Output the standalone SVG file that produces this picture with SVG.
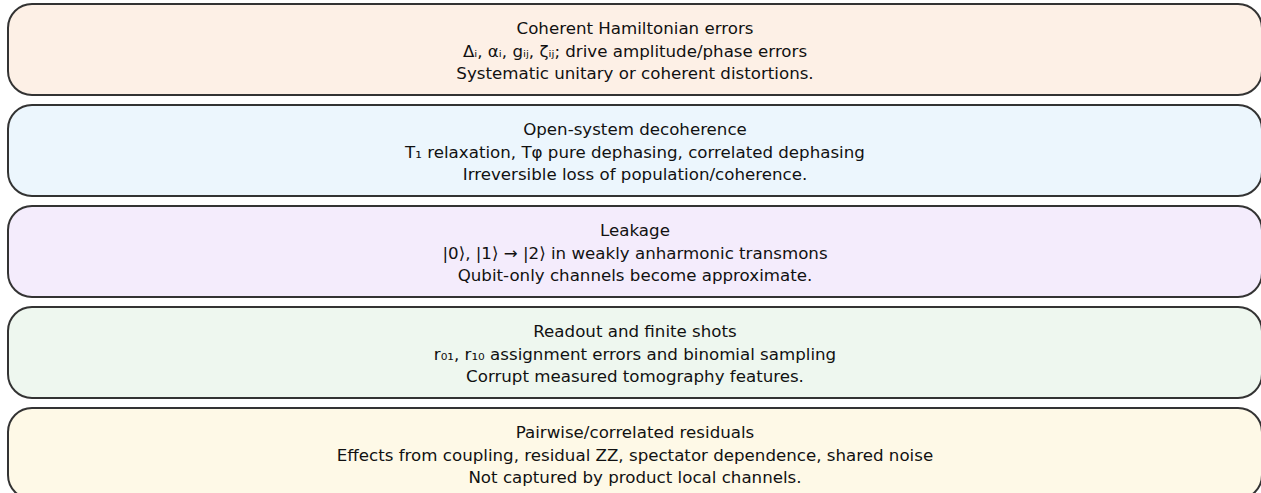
<svg xmlns="http://www.w3.org/2000/svg" width="1261" height="493" viewBox="0 0 1261 493">
  <style>
    .box { stroke: #333333; stroke-width: 2; }
    .t { font-family: "DejaVu Sans", "Liberation Sans", sans-serif; font-size: 16.67px; fill: #111111; text-anchor: middle; }
  </style>
  <rect x="0" y="0" width="1261" height="493" fill="#ffffff"/>
  <g id="node-coherent">
    <rect class="box" x="8" y="4" width="1254" height="91" rx="24" ry="24" fill="#fdf0e6"/>
    <text class="t" x="635" y="34">Coherent Hamiltonian errors</text>
    <text class="t" x="635" y="56.5">Δᵢ, αᵢ, gᵢⱼ, ζᵢⱼ; drive amplitude/phase errors</text>
    <text class="t" x="635" y="79">Systematic unitary or coherent distortions.</text>
  </g>
  <g id="node-decoherence">
    <rect class="box" x="8" y="105" width="1254" height="91" rx="24" ry="24" fill="#ecf6fd"/>
    <text class="t" x="635" y="135">Open-system decoherence</text>
    <text class="t" x="635" y="157.5">T₁ relaxation, Tφ pure dephasing, correlated dephasing</text>
    <text class="t" x="635" y="180">Irreversible loss of population/coherence.</text>
  </g>
  <g id="node-leakage">
    <rect class="box" x="8" y="206" width="1254" height="91" rx="24" ry="24" fill="#f4ecfc"/>
    <text class="t" x="635" y="236">Leakage</text>
    <text class="t" x="635" y="258.5">|0⟩, |1⟩ → |2⟩ in weakly anharmonic transmons</text>
    <text class="t" x="635" y="281">Qubit-only channels become approximate.</text>
  </g>
  <g id="node-readout">
    <rect class="box" x="8" y="307" width="1254" height="91" rx="24" ry="24" fill="#eef7ef"/>
    <text class="t" x="635" y="337">Readout and finite shots</text>
    <text class="t" x="635" y="359.5">r₀₁, r₁₀ assignment errors and binomial sampling</text>
    <text class="t" x="635" y="382">Corrupt measured tomography features.</text>
  </g>
  <g id="node-pairwise">
    <rect class="box" x="8" y="408" width="1254" height="91" rx="24" ry="24" fill="#fef9e7"/>
    <text class="t" x="635" y="438">Pairwise/correlated residuals</text>
    <text class="t" x="635" y="460.5">Effects from coupling, residual ZZ, spectator dependence, shared noise</text>
    <text class="t" x="635" y="483">Not captured by product local channels.</text>
  </g>
  <g id="connectors"></g>
</svg>
